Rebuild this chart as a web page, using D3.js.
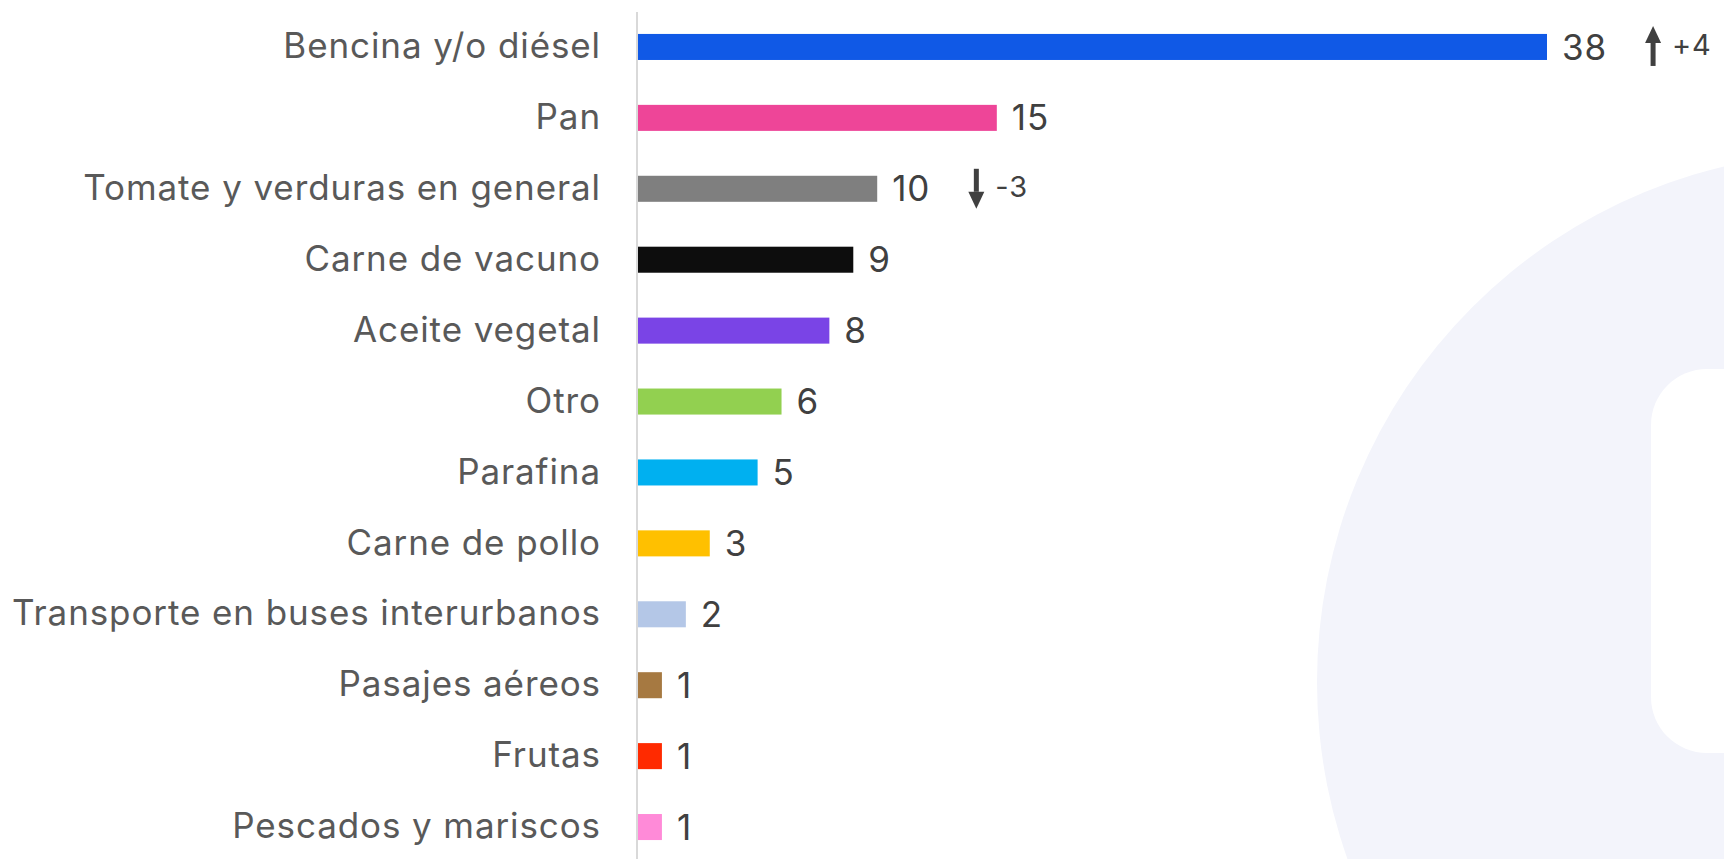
<!DOCTYPE html>
<html>
<head>
<meta charset="utf-8">
<script src="https://cdn.jsdelivr.net/npm/d3@7/dist/d3.min.js"></script>
<style>
  html, body { margin: 0; padding: 0; background: #ffffff; }
  svg { display: block; }
</style>
</head>
<body>
<svg id="chart" width="1724" height="859"></svg>
<script>
// Products whose price rise was noticed most (%)
const categories = [
  "Bencina y/o diésel",
  "Pan",
  "Tomate y verduras en general",
  "Carne de vacuno",
  "Aceite vegetal",
  "Otro",
  "Parafina",
  "Carne de pollo",
  "Transporte en buses interurbanos",
  "Pasajes aéreos",
  "Frutas",
  "Pescados y mariscos"
];
const values = [38, 15, 10, 9, 8, 6, 5, 3, 2, 1, 1, 1];
const colors = [
  "#1059e6", "#ee4598", "#7f7f7f", "#0d0d0d", "#7a44e6", "#92d050",
  "#00b0f0", "#ffc000", "#b4c7e7", "#a67941", "#ff2a00", "#ff8ad8"
];
// Change versus the previous measurement
const changeCategories = ["Bencina y/o diésel", "Tomate y verduras en general"];
const changeValues = [4, -3];

const W = 1724, H = 859;
const svg = d3.select("#chart");
const FONT = "Inter, 'Noto Sans', sans-serif";

// Faint background emblem
svg.append("circle")
  .attr("cx", 1847).attr("cy", 682).attr("r", 530)
  .attr("fill", "#f3f4fb");
svg.append("rect")
  .attr("x", 1651).attr("y", 369).attr("width", 200).attr("height", 384)
  .attr("rx", 56).attr("ry", 56)
  .attr("fill", "#ffffff");

const x = d3.scaleLinear().domain([0, d3.max(values)]).range([638, 1547]);
const y = d3.scaleBand().domain(categories).range([11.5, 862.5])
  .paddingInner(0.633).paddingOuter(0.3165);

// Category axis
const yAxis = d3.axisLeft(y).tickSize(0).tickPadding(36);
const gAxis = svg.append("g").attr("transform", "translate(637,0)").call(yAxis);
gAxis.select(".domain").remove();
gAxis.selectAll("text")
  .attr("font-family", FONT).attr("font-size", 35)
  .attr("letter-spacing", 0.9).attr("fill", "#595959");
svg.append("line")
  .attr("x1", 637).attr("x2", 637).attr("y1", 12).attr("y2", H)
  .attr("stroke", "#d9d9d9").attr("stroke-width", 2);

const rows = categories.map((c, i) => ({ c, v: values[i], col: colors[i] }));

svg.append("g").selectAll("rect").data(rows).join("rect")
  .attr("x", x(0))
  .attr("y", d => y(d.c))
  .attr("width", d => x(d.v) - x(0))
  .attr("height", y.bandwidth())
  .attr("fill", d => d.col);

const valueLabels = svg.append("g").selectAll("text").data(rows).join("text")
  .attr("x", d => x(d.v) + 15)
  .attr("y", d => y(d.c) + y.bandwidth() / 2)
  .attr("dy", "0.36em")
  .attr("font-family", FONT).attr("font-size", 35)
  .attr("letter-spacing", 0.9).attr("fill", "#404040")
  .text(d => d.v);

// Change arrows next to the value labels
const labelEnd = {};
valueLabels.each(function (d) {
  labelEnd[d.c] = x(d.v) + 15 + this.getComputedTextLength();
});
changeCategories.forEach((c, i) => {
  const ch = changeValues[i];
  const cy = y(c) + y.bandwidth() / 2;
  const ax = labelEnd[c] + 46;
  const up = ch > 0;
  const tip = up ? cy - 21 : cy + 20;
  const tail = up ? cy + 19 : cy - 20;
  const headBase = up ? tip + 17 : tip - 17;
  const g = svg.append("g");
  g.append("line")
    .attr("x1", ax).attr("x2", ax).attr("y1", tail).attr("y2", headBase)
    .attr("stroke", "#404040").attr("stroke-width", 5);
  g.append("path")
    .attr("d", `M${ax - 8},${headBase} L${ax + 8},${headBase} L${ax},${tip} Z`)
    .attr("fill", "#404040");
  g.append("text")
    .attr("x", ax + 19).attr("y", cy - 2)
    .attr("dy", "0.36em")
    .attr("font-family", FONT).attr("font-size", 29)
    .attr("letter-spacing", 0.8).attr("fill", "#404040")
    .text((up ? "+" : "-") + Math.abs(ch));
});
</script>
</body>
</html>
